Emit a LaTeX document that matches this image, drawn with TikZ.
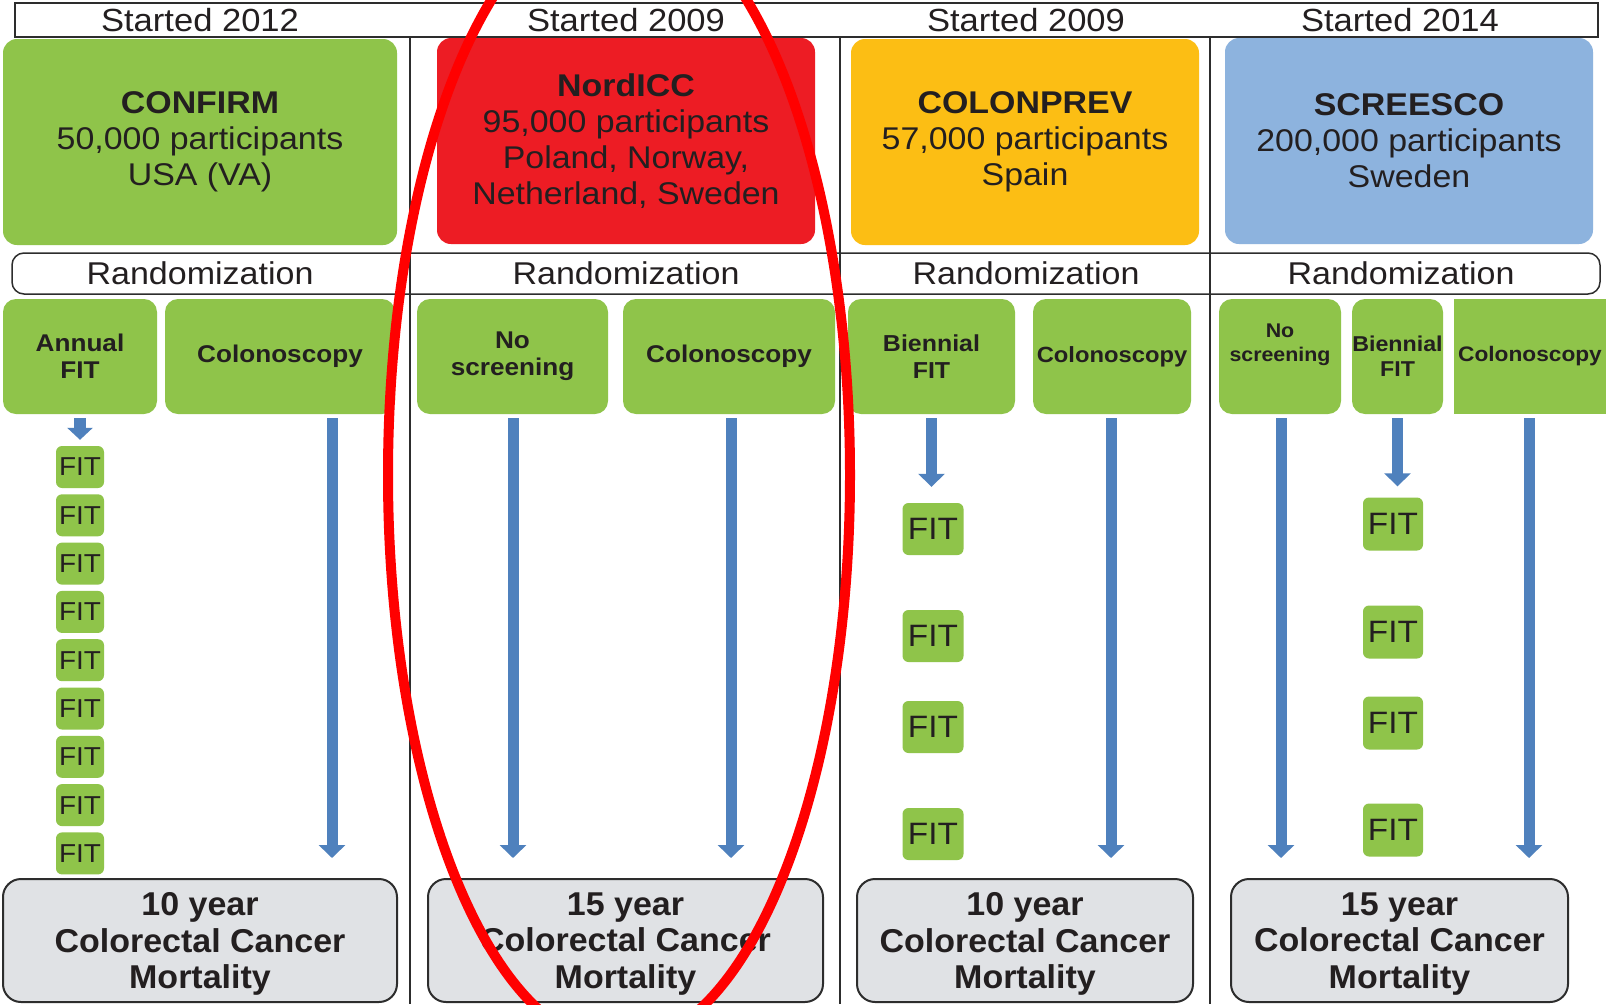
\documentclass[tikz,border=0pt]{standalone}
\usepackage{fontspec}
\setmainfont{Liberation Sans}[FakeStretch=1.08]
\newfontfamily\outfont{Liberation Sans}[FakeStretch=1.03]
\usetikzlibrary{arrows.meta}

\definecolor{armgreen}{RGB}{143,196,74}
\definecolor{trialred}{RGB}{237,28,36}
\definecolor{trialyellow}{RGB}{252,190,20}
\definecolor{trialblue}{RGB}{141,179,222}
\definecolor{arrowblue}{RGB}{79,129,189}
\definecolor{outgray}{RGB}{224,226,229}
\definecolor{linedark}{RGB}{45,45,45}
\definecolor{inkdark}{RGB}{35,31,32}

\begin{document}
\begin{tikzpicture}[x=1pt,y=-1pt,
    hdrtext/.style={anchor=base,text=inkdark,inner sep=0pt,font=\fontsize{32}{36}\selectfont},
    study/.style={rounded corners=14pt,minimum height=206pt,inner sep=0pt,align=center,text=inkdark,font=\fontsize{31.4}{36}\selectfont},
    arm/.style={fill=armgreen,rounded corners=13pt,minimum height=115pt,inner sep=0pt,align=center,text=inkdark,font=\bfseries\fontsize{24.2}{27}\selectfont},
    fitbox/.style={fill=armgreen,rounded corners=6pt,inner sep=0pt,text=inkdark},
    outcome/.style={draw=linedark,fill=outgray,line width=2pt,rounded corners=18pt,minimum height=123pt,inner sep=0pt,align=center,text depth=0pt,text=inkdark,font=\outfont\bfseries\fontsize{33}{36.5}\selectfont},
    blockarrow/.style={draw=arrowblue,line width=11pt,-{Triangle[width=26pt,length=13pt]},shorten <=4pt},
    sepline/.style={draw=linedark,line width=1.5pt}]

    \useasboundingbox[fill=white] (0,0) rectangle (1606,1004);

    % Header row and randomization band
    \node[draw=linedark,line width=2.5pt,minimum width=1583pt,minimum height=34pt,inner sep=0pt] (hdr) at (806.5,20) {};
    \node[draw=linedark,line width=1.5pt,rounded corners=12pt,minimum width=1588pt,minimum height=41pt,inner sep=0pt] (rnd) at (806,273.5) {};
    \draw[sepline] (410,37) -- (410,1004);
    \draw[sepline] (840,37) -- (840,1004);
    \draw[sepline] (1210,37) -- (1210,1004);

    \node[hdrtext] (y1) at (200,31) {Started 2012};
    \node[hdrtext] (y2) at (626,31) {Started 2009};
    \node[hdrtext] (y3) at (1026,31) {Started 2009};
    \node[hdrtext] (y4) at (1400,31) {Started 2014};

    \node[hdrtext,font=\fontsize{31.5}{36}\selectfont] (r1) at (200,284.5) {Randomization};
    \node[hdrtext,font=\fontsize{31.5}{36}\selectfont] (r2) at (626,284.5) {Randomization};
    \node[hdrtext,font=\fontsize{31.5}{36}\selectfont] (r3) at (1026,284.5) {Randomization};
    \node[hdrtext,font=\fontsize{31.5}{36}\selectfont] (r4) at (1401,284.5) {Randomization};

    % CONFIRM
    \node[study,fill=armgreen,minimum width=394pt] (confirm) at (200,142) {\textbf{CONFIRM}\\50,000 participants\\USA (VA)};
    \node[arm,minimum width=154pt] (c1fit) at (80,356.5) {Annual\\FIT};
    \node[arm,minimum width=230pt] (c1colo) at (280,356.5) {Colonoscopy};
    \node[fitbox,minimum width=48pt,minimum height=42pt,font=\fontsize{25.9}{28}\selectfont] (fa1) at (80,467) {FIT};
    \node[fitbox,minimum width=48pt,minimum height=42pt,font=\fontsize{25.9}{28}\selectfont] (fa2) at (80,515.3) {FIT};
    \node[fitbox,minimum width=48pt,minimum height=42pt,font=\fontsize{25.9}{28}\selectfont] (fa3) at (80,563.6) {FIT};
    \node[fitbox,minimum width=48pt,minimum height=42pt,font=\fontsize{25.9}{28}\selectfont] (fa4) at (80,611.9) {FIT};
    \node[fitbox,minimum width=48pt,minimum height=42pt,font=\fontsize{25.9}{28}\selectfont] (fa5) at (80,660.2) {FIT};
    \node[fitbox,minimum width=48pt,minimum height=42pt,font=\fontsize{25.9}{28}\selectfont] (fa6) at (80,708.5) {FIT};
    \node[fitbox,minimum width=48pt,minimum height=42pt,font=\fontsize{25.9}{28}\selectfont] (fa7) at (80,756.8) {FIT};
    \node[fitbox,minimum width=48pt,minimum height=42pt,font=\fontsize{25.9}{28}\selectfont] (fa8) at (80,805.1) {FIT};
    \node[fitbox,minimum width=48pt,minimum height=42pt,font=\fontsize{25.9}{28}\selectfont] (fa9) at (80,853.4) {FIT};
    \node[outcome,minimum width=394pt] (o1) at (200,940.5) {10 year\\Colorectal Cancer\\Mortality};
    \coordinate (t1) at (332,858);
    \draw[blockarrow,line width=12pt,-{Triangle[width=25pt,length=12pt]},shorten >=6pt] (c1fit.south) -- (c1fit.south |- fa1.north);
    \draw[blockarrow] (t1 |- c1colo.south) -- (t1);

    % NordICC
    \node[study,fill=trialred,minimum width=378pt] (nordicc) at (626,141) {\textbf{NordICC}\\95,000 participants\\Poland, Norway,\\Netherland, Sweden};
    \node[arm,minimum width=191pt] (c2none) at (512.5,356.5) {No\\screening};
    \node[arm,minimum width=212pt] (c2colo) at (729,356.5) {Colonoscopy};
    \node[outcome,minimum width=395pt] (o2) at (625.5,940.5) {15 year\\Colorectal Cancer\\Mortality};
    \coordinate (t2) at (513,858);
    \coordinate (t3) at (731,858);
    \draw[blockarrow] (t2 |- c2none.south) -- (t2);
    \draw[blockarrow] (t3 |- c2colo.south) -- (t3);

    % COLONPREV
    \node[study,fill=trialyellow,minimum width=348pt] (colonprev) at (1025,142) {\textbf{COLONPREV}\\57,000 participants\\Spain};
    \node[arm,minimum width=167pt,font=\bfseries\fontsize{23.1}{27}\selectfont] (c3fit) at (931.5,356.5) {Biennial\\FIT};
    \node[arm,minimum width=158pt,font=\bfseries\fontsize{22}{24}\selectfont] (c3colo) at (1112,356.5) {Colonoscopy};
    \node[fitbox,minimum width=61pt,minimum height=52pt,font=\fontsize{30.9}{32}\selectfont] (fb1) at (933,529) {FIT};
    \node[fitbox,minimum width=61pt,minimum height=52pt,font=\fontsize{30.9}{32}\selectfont] (fb2) at (933,636) {FIT};
    \node[fitbox,minimum width=61pt,minimum height=52pt,font=\fontsize{30.9}{32}\selectfont] (fb3) at (933,727) {FIT};
    \node[fitbox,minimum width=61pt,minimum height=52pt,font=\fontsize{30.9}{32}\selectfont] (fb4) at (933,834) {FIT};
    \node[outcome,minimum width=336pt] (o3) at (1025,940.5) {10 year\\Colorectal Cancer\\Mortality};
    \coordinate (t4) at (1111,858);
    \draw[blockarrow,shorten >=16pt] (c3fit.south) -- (c3fit.south |- fb1.north);
    \draw[blockarrow] (t4 |- c3colo.south) -- (t4);

    % SCREESCO
    \node[study,fill=trialblue,minimum width=368pt] (screesco) at (1409,141) {\textbf{SCREESCO}\\200,000 participants\\Sweden};
    \node[arm,minimum width=122pt,font=\bfseries\fontsize{19.8}{24}\selectfont] (c4none) at (1280,356.5) {No\\screening\\[3pt]};
    \node[arm,minimum width=91pt,font=\bfseries\fontsize{21.5}{25}\selectfont] (c4fit) at (1397.5,356.5) {Biennial\\FIT};
    \node[arm,rounded corners=0pt,minimum width=152pt,font=\bfseries\fontsize{21}{24}\selectfont] (c4colo) at (1530,356.5) {Colonoscopy};
    \node[fitbox,minimum width=60pt,minimum height=53pt,font=\fontsize{30.9}{32}\selectfont] (fc1) at (1393,524) {FIT};
    \node[fitbox,minimum width=60pt,minimum height=53pt,font=\fontsize{30.9}{32}\selectfont] (fc2) at (1393,632) {FIT};
    \node[fitbox,minimum width=60pt,minimum height=53pt,font=\fontsize{30.9}{32}\selectfont] (fc3) at (1393,723) {FIT};
    \node[fitbox,minimum width=60pt,minimum height=53pt,font=\fontsize{30.9}{32}\selectfont] (fc4) at (1393,830) {FIT};
    \node[outcome,minimum width=337pt] (o4) at (1399.5,940.5) {15 year\\Colorectal Cancer\\Mortality};
    \coordinate (t5) at (1281,858);
    \coordinate (t6) at (1529,858);
    \draw[blockarrow] (t5 |- c4none.south) -- (t5);
    \draw[blockarrow,shorten >=11pt] (c4fit.south) -- (c4fit.south |- fc1.north);
    \draw[blockarrow] (t6 |- c4colo.south) -- (t6);

    % highlight
    \draw[red,line width=10pt] (619,475) ellipse [x radius=231pt,y radius=570pt];
\end{tikzpicture}
\end{document}
